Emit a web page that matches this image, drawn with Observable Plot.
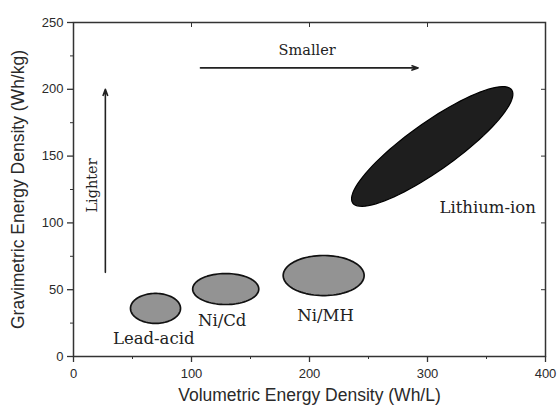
<!DOCTYPE html>
<html><head><meta charset="utf-8">
<script src="https://cdn.jsdelivr.net/npm/d3@7"></script>
<script src="https://cdn.jsdelivr.net/npm/@observablehq/plot@0.6"></script>
<style>body{margin:0;background:#fff}</style>
</head><body><div id="chart"></div>
<script>
// Battery regions (Wh/L, Wh/kg): centre and two conjugate semi-axis vectors
const batteries = ["Lead-acid", "Ni/Cd", "Ni/MH", "Lithium-ion"];
const volCenter = [69.5, 129, 212, 304];
const gravCenter = [36, 50.5, 60.6, 157.2];
const volAxisA = [21.2, 28, 34.3, 67.4];
const gravAxisA = [0, 0, 0, 42.3];
const volAxisB = [0, 0, 0, -11.5];
const gravAxisB = [11.2, 11.6, 15, 14.8];

// Region labels
const labelText = ["Lead-acid", "Ni/Cd", "Ni/MH", "Lithium-ion"];
const labelVol = [68, 126, 213.6, 351];
const labelGrav = [13.5, 27, 30.7, 111.5];

// Annotations
const annoText = ["Smaller", "Lighter"];
const annoVol = [198, 16];
const annoGrav = [229, 128];
const annoRotate = [0, -90];
const arrowX1 = [107.6, 27];
const arrowY1 = [216, 63];
const arrowX2 = [292, 27];
const arrowY2 = [216, 200];

// Ticks
const xMajorTicks = [0, 100, 200, 300, 400];
const xMinorTicks = [50, 150, 250, 350];
const yMajorTicks = [0, 50, 100, 150, 200, 250];
const yMinorTicks = [25, 75, 125, 175, 225];

const outline = [];
batteries.forEach((name, i) => {
  const n = 90;
  for (let k = 0; k < n; k++) {
    const t = 2 * Math.PI * k / n;
    outline.push({
      name, dark: i === 3,
      x: volCenter[i] + Math.cos(t) * volAxisA[i] + Math.sin(t) * volAxisB[i],
      y: gravCenter[i] + Math.cos(t) * gravAxisA[i] + Math.sin(t) * gravAxisB[i]
    });
  }
});
const labels = labelText.map((t, i) => ({t, x: labelVol[i], y: labelGrav[i]}));
const annos = annoText.map((t, i) => ({t, x: annoVol[i], y: annoGrav[i], r: annoRotate[i]}));
const arrows = arrowX1.map((x1, i) => ({x1, y1: arrowY1[i], x2: arrowX2[i], y2: arrowY2[i]}));

const sans = "'Liberation Sans', Arial, sans-serif";
const serif = "'DejaVu Serif', serif";

const chart = Plot.plot({
  width: 560, height: 406,
  marginLeft: 73, marginRight: 15, marginTop: 22, marginBottom: 50,
  style: {fontFamily: sans, color: "#2a2a2a", background: "#fff"},
  x: {domain: [0, 400], axis: null},
  y: {domain: [0, 250], axis: null},
  marks: [
    Plot.frame({stroke: "#333", strokeWidth: 1.5}),
    Plot.line(outline.filter(d => !d.dark), {x: "x", y: "y", z: "name", fill: "#939393", stroke: "#111", strokeWidth: 1.7, curve: "linear-closed"}),
    Plot.line(outline.filter(d => d.dark), {x: "x", y: "y", z: "name", fill: "#1e1e1e", stroke: "#000", strokeWidth: 1.2, curve: "linear-closed"}),
    Plot.text(labels, {x: "x", y: "y", text: "t", fontFamily: serif, fontSize: 16.5, fill: "#222"}),
    Plot.text(annos, {x: "x", y: "y", text: "t", rotate: "r", fontFamily: serif, fontSize: 14.5, fill: "#222"}),
    Plot.arrow(arrows, {x1: "x1", y1: "y1", x2: "x2", y2: "y2", stroke: "#222", strokeWidth: 1.6, headLength: 6, headAngle: 40}),
    Plot.axisX({ticks: xMajorTicks, tickSize: 6, tickPadding: 6, fontSize: 13, stroke: "#333", strokeWidth: 1.3,
      label: "Volumetric Energy Density (Wh/L)", labelArrow: "none", labelAnchor: "center", labelOffset: 44}),
    Plot.axisX({ticks: xMinorTicks, tickSize: 3, text: null, label: null, stroke: "#333"}),
    Plot.axisX({anchor: "top", ticks: [100, 200, 300], tickSize: 4, dy: 4, text: null, label: null, stroke: "#333"}),
    Plot.axisY({ticks: yMajorTicks, tickSize: 6, tickPadding: 4, fontSize: 13, stroke: "#333", strokeWidth: 1.3,
      label: "Gravimetric Energy Density (Wh/kg)", labelArrow: "none", labelAnchor: "center", labelOffset: 62}),
    Plot.axisY({ticks: yMinorTicks, tickSize: 3, text: null, label: null, stroke: "#333"}),
    Plot.axisY({anchor: "right", ticks: [50, 100, 150, 200], tickSize: 5, dx: -5, text: null, label: null, stroke: "#333"})
  ]
});
chart.querySelectorAll("[aria-label='x-axis label'] text, [aria-label='y-axis label'] text").forEach(t => t.setAttribute("font-size", 17.5));
document.getElementById("chart").append(chart);
</script>
</body></html>
